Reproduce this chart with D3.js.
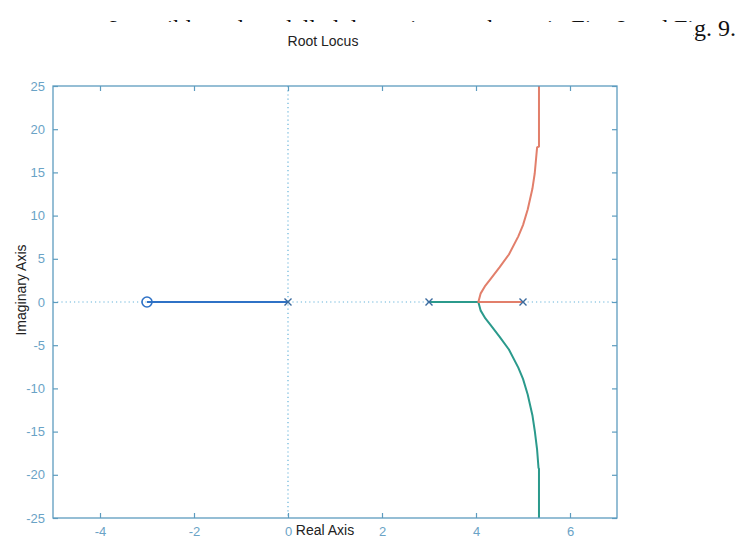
<!DOCTYPE html>
<html>
<head>
<meta charset="utf-8">
<script src="https://cdn.jsdelivr.net/npm/d3@7"></script>
<style>
  html, body { margin: 0; padding: 0; background: #fff; }
  svg { display: block; }
</style>
</head>
<body>
<svg id="chart" width="737" height="538"></svg>
<script>
// Axis ranges and ticks
const xDomain = [-5, 7];
const yDomain = [-25, 25];
const xTicks = [-4, -2, 0, 2, 4, 6];
const yTicks = [-25, -20, -15, -10, -5, 0, 5, 10, 15, 20, 25];

// Open-loop poles and zeros
const poles = [0, 3, 5];
const zeros = [-3];

// Locus branches as [real, imaginary] pairs
const branchBlue = [[0, 0], [-1, 0], [-2, 0], [-3, 0]];
const branchGreen = [
  [3, 0], [3.5, 0], [4.05, 0], [4.1, -1.0], [4.2, -1.9], [4.3, -2.6], [4.5, -4.0],
  [4.7, -5.5], [4.9, -7.6], [5.0, -8.9], [5.1, -10.7], [5.2, -13.1],
  [5.25, -14.9], [5.3, -17.1], [5.33, -19.2], [5.34, -19.3], [5.34, -30]
];
const branchRed = [
  [5, 0], [4.5, 0], [4.05, 0], [4.1, 1.0], [4.2, 1.9], [4.3, 2.6], [4.5, 4.0],
  [4.7, 5.5], [4.9, 7.6], [5.0, 8.9], [5.1, 10.7], [5.2, 13.1],
  [5.25, 14.9], [5.3, 17.9], [5.34, 18.0], [5.34, 30]
];

const titleText = "Root Locus";
const xLabel = "Real Axis";
const yLabel = "Imaginary Axis";
const pageLine = "6 possible and modelled dynamics are shown in Fig. 8 and Fig. 9.";

const svg = d3.select("#chart");
const m = { left: 53, right: 617, top: 86, bottom: 518 };

const x = d3.scaleLinear().domain(xDomain).range([m.left, m.right]);
const y = d3.scaleLinear().domain(yDomain).range([m.bottom, m.top]);

const axisColor = "#5d9cbf";
const labelColor = "#6aa3c6";
const font = "'Liberation Sans', Arial, sans-serif";
const plain = d => String(d);

// Running text line of the page, mostly hidden behind the figure
const defs = svg.append("defs");
defs.append("clipPath").attr("id", "pageClip")
  .append("path")
  .attr("d", "M0,0H737V60H693V22H0Z");
svg.append("text")
  .attr("x", 736).attr("y", 36)
  .attr("text-anchor", "end")
  .attr("clip-path", "url(#pageClip)")
  .attr("font-family", "'Liberation Serif', 'DejaVu Serif', serif")
  .attr("font-size", 24)
  .attr("fill", "#111")
  .text(pageLine);

// Clip region for the plot contents
defs.append("clipPath").attr("id", "plotClip")
  .append("rect")
  .attr("x", m.left).attr("y", m.top)
  .attr("width", m.right - m.left).attr("height", m.bottom - m.top);

// Dotted reference lines through the origin
const refs = svg.append("g").attr("clip-path", "url(#plotClip)");
refs.append("line")
  .attr("x1", x(0)).attr("x2", x(0)).attr("y1", m.top).attr("y2", m.bottom)
  .attr("stroke", "#66b3d9").attr("stroke-width", 1.2).attr("stroke-dasharray", "1.2,3");
refs.append("line")
  .attr("x1", m.left).attr("x2", m.right).attr("y1", y(0)).attr("y2", y(0))
  .attr("stroke", "#66b3d9").attr("stroke-width", 1.2).attr("stroke-dasharray", "1.2,3");

// Axes with inward ticks on all four sides
const tickLen = 5;
function styleAxis(g) {
  g.selectAll("path.domain").remove();
  g.selectAll(".tick line").attr("stroke", axisColor).attr("stroke-width", 1.2);
  g.selectAll(".tick text").attr("fill", labelColor)
    .attr("font-family", font).attr("font-size", 13);
}
svg.append("g").attr("transform", `translate(0,${m.bottom})`)
  .call(d3.axisBottom(x).tickValues(xTicks).tickFormat(plain)
    .tickSizeInner(-tickLen).tickSizeOuter(0).tickPadding(9))
  .call(styleAxis);
svg.append("g").attr("transform", `translate(0,${m.top})`)
  .call(d3.axisTop(x).tickValues(xTicks).tickSizeInner(-tickLen).tickSizeOuter(0).tickFormat(""))
  .call(styleAxis);
svg.append("g").attr("transform", `translate(${m.left},0)`)
  .call(d3.axisLeft(y).tickValues(yTicks).tickFormat(plain)
    .tickSizeInner(-tickLen).tickSizeOuter(0).tickPadding(8))
  .call(styleAxis);
svg.append("g").attr("transform", `translate(${m.right},0)`)
  .call(d3.axisRight(y).tickValues(yTicks).tickSizeInner(-tickLen).tickSizeOuter(0).tickFormat(""))
  .call(styleAxis);

// Locus branches
const line = d3.line().x(d => x(d[0])).y(d => y(d[1]));
const curves = svg.append("g").attr("clip-path", "url(#plotClip)")
  .attr("fill", "none").attr("stroke-width", 2).attr("stroke-linejoin", "round");
curves.append("path").datum(branchBlue).attr("d", line).attr("stroke", "#2f72c6");
curves.append("path").datum(branchGreen).attr("d", line).attr("stroke", "#2b9a8c");
curves.append("path").datum(branchRed).attr("d", line).attr("stroke", "#e27f6b");

// Pole (x) and zero (o) markers
const marks = svg.append("g");
const s = 3.5;
poles.forEach(p => {
  const cx = x(p), cy = y(0);
  marks.append("path")
    .attr("d", `M${cx - s},${cy - s}L${cx + s},${cy + s}M${cx - s},${cy + s}L${cx + s},${cy - s}`)
    .attr("stroke", "#3a6a9e").attr("stroke-width", 1.4);
});
zeros.forEach(z => {
  marks.append("circle")
    .attr("cx", x(z)).attr("cy", y(0)).attr("r", 5)
    .attr("fill", "none").attr("stroke", "#2f72c6").attr("stroke-width", 1.6);
});

// Frame
svg.append("rect")
  .attr("x", m.left).attr("y", m.top)
  .attr("width", m.right - m.left).attr("height", m.bottom - m.top)
  .attr("fill", "none").attr("stroke", axisColor).attr("stroke-width", 1.3);

// Titles
svg.append("text")
  .attr("x", 323).attr("y", 46).attr("text-anchor", "middle")
  .attr("font-family", font).attr("font-size", 14).attr("fill", "#222")
  .text(titleText);
svg.append("text")
  .attr("x", 325).attr("y", 535).attr("text-anchor", "middle")
  .attr("font-family", font).attr("font-size", 14).attr("fill", "#222")
  .text(xLabel);
svg.append("text")
  .attr("transform", "translate(26,290) rotate(-90)")
  .attr("text-anchor", "middle")
  .attr("font-family", font).attr("font-size", 14).attr("fill", "#222")
  .text(yLabel);
</script>
</body>
</html>
